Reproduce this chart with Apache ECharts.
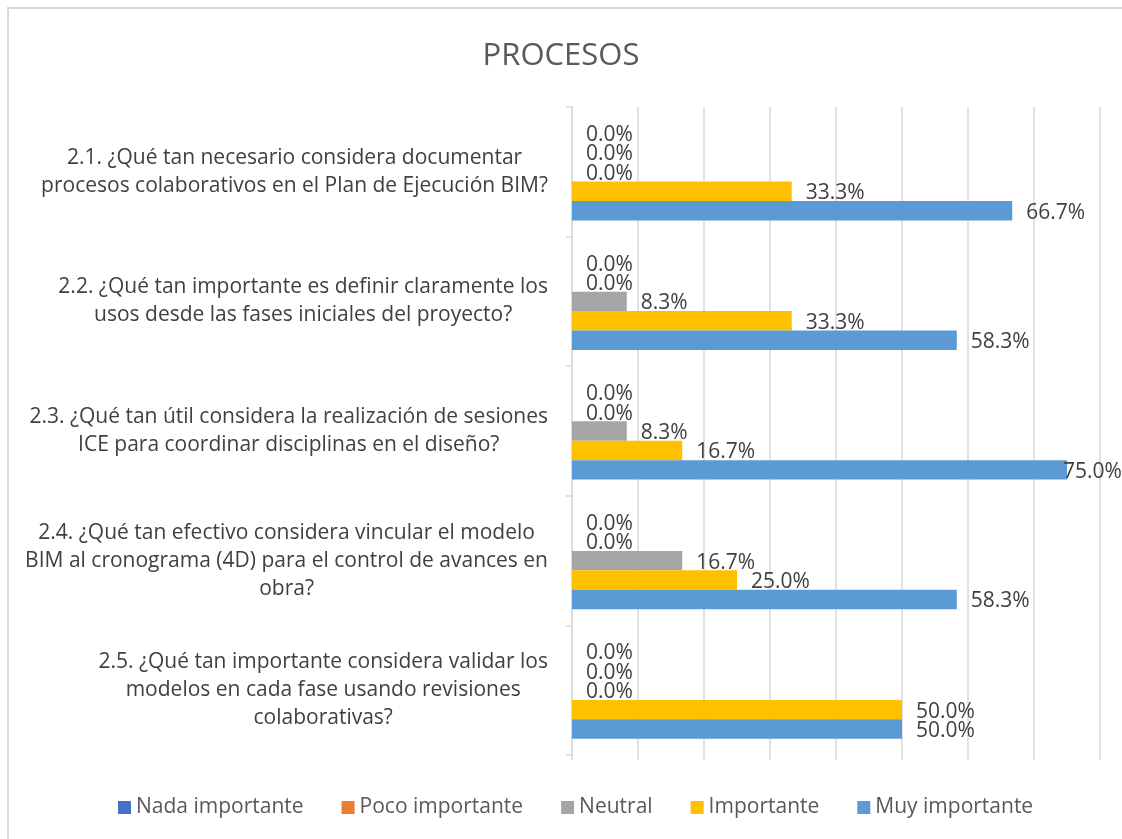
<!DOCTYPE html>
<html>
<head>
<meta charset="utf-8">
<script src="https://cdn.jsdelivr.net/npm/echarts@6/dist/echarts.min.js"></script>
<style>
  html, body { margin: 0; padding: 0; background: #fff; }
  #main { width: 1122px; height: 839px; }
</style>
</head>
<body>
<div id="main"></div>
<script>
// categories (line breaks as in the picture)
const categories = [
  '2.1. ¿Qué tan necesario considera documentar\nprocesos colaborativos en el Plan de Ejecución BIM?',
  '2.2. ¿Qué tan importante es definir claramente los\nusos desde las fases iniciales del proyecto?',
  '2.3. ¿Qué tan útil considera la realización de sesiones\nICE para coordinar disciplinas en el diseño?',
  '2.4. ¿Qué tan efectivo considera vincular el modelo\nBIM al cronograma (4D) para el control de avances en\nobra?',
  '2.5. ¿Qué tan importante considera validar los\nmodelos en cada fase usando revisiones\ncolaborativas?'
];
const seriesNames = ['Nada importante', 'Poco importante', 'Neutral', 'Importante', 'Muy importante'];
const nada = [0, 0, 0, 0, 0];
const poco = [0, 0, 0, 0, 0];
const neutral = [0, 8.3, 8.3, 16.7, 0];
const importante = [33.3, 33.3, 16.7, 25.0, 50.0];
const muy = [66.7, 58.3, 75.0, 58.3, 50.0];
const colors = ['#4472C4', '#ED7D31', '#A5A5A5', '#FFC000', '#5B9BD5'];

const FONT = '"Open Sans", sans-serif';
const allData = [nada, poco, neutral, importante, muy];

const series = allData.map((vals, i) => ({
  name: seriesNames[i],
  type: 'bar',
  barGap: '0%',
  barCategoryGap: '25%',
  itemStyle: { color: colors[i] },
  label: {
    show: true,
    position: 'right',
    distance: 14,
    offset: [0, 2],
    color: '#404040',
    fontSize: 21,
    fontFamily: FONT,
    formatter: p => p.value.toFixed(1) + '%'
  },
  // labels that would leave the plot are pulled back onto the bar end, like Excel
  data: vals.map(v => v > 70 ? { value: v, label: { distance: -4 } } : v)
}));

const chart = echarts.init(document.getElementById('main'));
chart.setOption({
  animation: false,
  textStyle: { fontFamily: FONT },
  graphic: [{
    type: 'rect',
    shape: { x: 8, y: 8, width: 1130, height: 845 },
    style: { fill: 'none', stroke: '#d9d9d9', lineWidth: 2 },
    silent: true
  }],
  title: {
    text: 'PROCESOS',
    left: 'center',
    top: 36,
    textStyle: { fontSize: 31, fontWeight: 'normal', color: '#595959', fontFamily: FONT }
  },
  legend: {
    data: seriesNames,
    top: 792,
    left: 113,
    icon: 'rect',
    itemWidth: 13,
    itemHeight: 13,
    itemGap: 38,
    textStyle: { fontSize: 21, color: '#595959', fontFamily: FONT }
  },
  grid: { left: 572, right: 22, top: 107, bottom: 84 },
  xAxis: {
    type: 'value',
    min: 0,
    max: 80,
    interval: 10,
    axisLabel: { show: false },
    axisLine: { show: false },
    axisTick: { show: true, length: 5, lineStyle: { color: '#d9d9d9', width: 1.5 } },
    splitLine: { lineStyle: { color: '#d9d9d9', width: 1.5 } }
  },
  yAxis: {
    type: 'category',
    inverse: true,
    data: categories,
    axisLine: { show: true, lineStyle: { color: '#d9d9d9', width: 1.5 } },
    axisTick: { show: true, length: 6, lineStyle: { color: '#d9d9d9', width: 1.5 } },
    axisLabel: {
      margin: 24,
      align: 'right',
      formatter: v => v.split('\n').map(l => '{c|' + l + '}').join('\n'),
      rich: {
        c: { align: 'center', fontSize: 21, lineHeight: 28, color: '#404040', fontFamily: FONT }
      }
    }
  },
  series: series
});
</script>
</body>
</html>
